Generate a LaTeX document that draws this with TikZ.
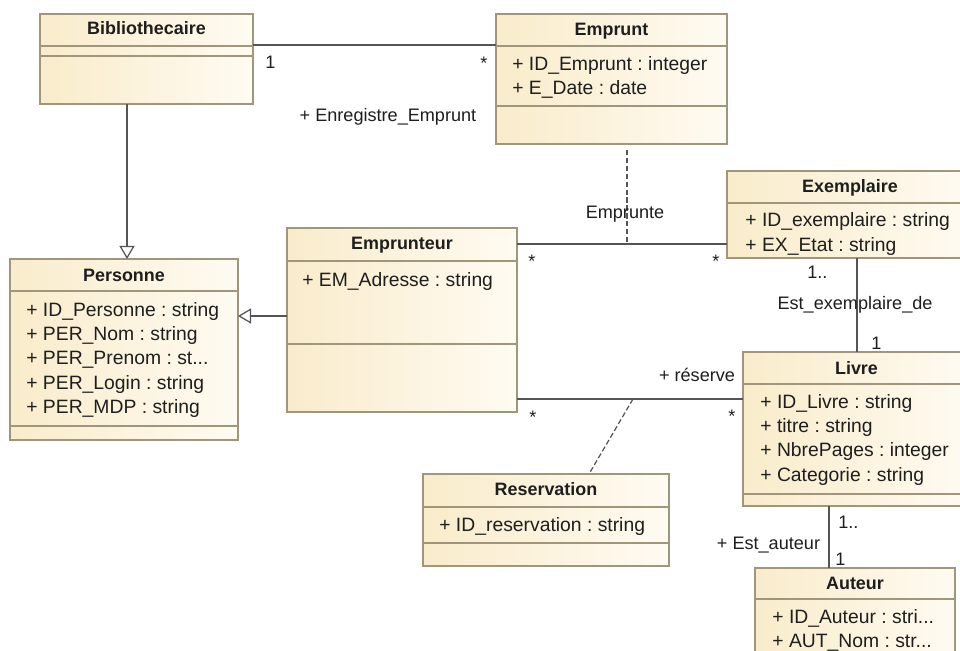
\documentclass[tikz,border=0pt]{standalone}
\usepackage{fontspec}
\setmainfont{Liberation Sans}
\usetikzlibrary{arrows.meta,fit,calc}
\definecolor{clsborder}{HTML}{A0967C}
\definecolor{clsleft}{HTML}{F9ECCB}
\definecolor{clsright}{HTML}{FFFBF2}
\definecolor{linecol}{HTML}{555555}
\definecolor{txt}{HTML}{1E1E1E}
\frenchspacing
\tikzset{
  clsbox/.style={draw=clsborder, line width=0.8pt, left color=clsleft, right color=clsright, inner sep=0pt, outer sep=0pt},
  divline/.style={draw=clsborder, line width=0.8pt},
  ttl/.style={font=\fontsize{10.2}{12}\selectfont\bfseries, text=txt, anchor=base, inner sep=0pt},
  attr/.style={font=\fontsize{11}{13}\selectfont, text=txt, anchor=base west, inner sep=0pt},
  lbl/.style={font=\fontsize{10.3}{12}\selectfont, text=txt, anchor=base, inner sep=0pt},
  lblw/.style={lbl, anchor=base west},
  assoc/.style={draw=linecol, line width=0.7pt},
  dep/.style={draw=linecol, line width=0.7pt, dash pattern=on 3pt off 1.5pt},
  gen/.style={draw=linecol, line width=0.7pt, -{Triangle[open, length=0.26cm, width=0.3cm, fill=white]}},
}
\newcommand\umlclass[5]{\node[clsbox, fit={(#2,#3)(#4,#5)}] (#1) {};}
\newcommand\clsdiv[2]{\draw[divline] (#1.west |- 0,#2) -- (#1.east |- 0,#2);}
\begin{document}
\begin{tikzpicture}[x=0.02cm, y=-0.02cm]
\useasboundingbox (0,0) rectangle (960,651);
\fill[white] (0,0) rectangle (960,651);

% Bibliothecaire
\umlclass{biblio}{40}{14}{253}{104}
\clsdiv{biblio}{46}\clsdiv{biblio}{56}
\node[ttl] (biblio-t) at (146.5,35) {Bibliothecaire};

% Emprunt
\umlclass{emprunt}{496}{14}{727}{144}
\clsdiv{emprunt}{46}\clsdiv{emprunt}{106}
\node[ttl] (emprunt-t) at (611.5,36) {Emprunt};
\node[attr] (emprunt-a1) at (512,71) {+ ID\_Emprunt : integer};
\node[attr] (emprunt-a2) at (512,95) {+ E\_Date : date};

% Exemplaire
\umlclass{exemp}{727}{171}{973}{258}
\clsdiv{exemp}{203}
\node[ttl] (exemp-t) at (850,193) {Exemplaire};
\node[attr] (exemp-a1) at (745,227) {+ ID\_exemplaire : string};
\node[attr] (exemp-a2) at (745,252) {+ EX\_Etat : string};

% Personne
\umlclass{personne}{10}{259}{238}{440}
\clsdiv{personne}{291}\clsdiv{personne}{426}
\node[ttl] (personne-t) at (124,282) {Personne};
\node[attr] (personne-a1) at (26,317) {+ ID\_Personne : string};
\node[attr] (personne-a2) at (26,341) {+ PER\_Nom : string};
\node[attr] (personne-a3) at (26,365) {+ PER\_Prenom : st...};
\node[attr] (personne-a4) at (26,390) {+ PER\_Login : string};
\node[attr] (personne-a5) at (26,414) {+ PER\_MDP : string};

% Emprunteur
\umlclass{emprunteur}{287}{228}{517}{412}
\clsdiv{emprunteur}{261}\clsdiv{emprunteur}{344}
\node[ttl] (emprunteur-t) at (402,250) {Emprunteur};
\node[attr] (emprunteur-a1) at (302,287) {+ EM\_Adresse : string};

% Livre
\umlclass{livre}{743}{352}{970}{506}
\clsdiv{livre}{384}\clsdiv{livre}{494}
\node[ttl] (livre-t) at (856.5,375) {Livre};
\node[attr] (livre-a1) at (760,409) {+ ID\_Livre : string};
\node[attr] (livre-a2) at (760,433) {+ titre : string};
\node[attr] (livre-a3) at (760,457) {+ NbrePages : integer};
\node[attr] (livre-a4) at (760,482) {+ Categorie : string};

% Reservation
\umlclass{reservation}{423}{474}{669}{566}
\clsdiv{reservation}{507}\clsdiv{reservation}{543}
\node[ttl] (reservation-t) at (546,496) {Reservation};
\node[attr] (reservation-a1) at (439,532) {+ ID\_reservation : string};

% Auteur
\umlclass{auteur}{755}{568}{955}{690}
\clsdiv{auteur}{599}
\node[ttl] (auteur-t) at (855,589) {Auteur};
\node[attr] (auteur-a1) at (772,623) {+ ID\_Auteur : stri...};
\node[attr] (auteur-a2) at (772,647) {+ AUT\_Nom : str...};

% helper coordinates
\coordinate (yA) at (0,45);
\coordinate (xG) at (127,0);
\coordinate (yG) at (0,316);
\coordinate (yE) at (0,244);
\coordinate (xE) at (627,150);
\coordinate (yR) at (0,399);
\coordinate (rA) at (633,399);
\coordinate (xR) at (589,0);
\coordinate (xX) at (857,0);
\coordinate (xU) at (829,0);

% connectors
\draw[assoc] (biblio.east |- yA) -- (emprunt.west |- yA);
\draw[gen] (biblio.south -| xG) -- (personne.north -| xG);
\draw[gen] (emprunteur.west |- yG) -- (personne.east |- yG);
\draw[assoc] (emprunteur.east |- yE) -- (exemp.west |- yE);
\draw[dep] (xE) -- (xE |- yE);
\draw[assoc] (emprunteur.east |- yR) -- (livre.west |- yR);
\draw[dep] (rA) -- (reservation.north -| xR);
\draw[assoc] (exemp.south -| xX) -- (livre.north -| xX);
\draw[assoc] (livre.south -| xU) -- (auteur.north -| xU);

% labels
\node[lblw] (m1) at (265,68.5) {1};
\node[lbl] (m2) at (484,70) {*};
\node[lbl] (l1) at (388,121.5) {+ Enregistre\_Emprunt};
\node[lbl] (l2) at (625,218.5) {Emprunte};
\node[lbl] (m3) at (532,268) {*};
\node[lbl] (m4) at (716,268) {*};
\node[lblw] (m5) at (807,278.5) {1..};
\node[lbl] (l3) at (855,309.5) {Est\_exemplaire\_de};
\node[lblw] (m6) at (871,349.5) {1};
\node[lbl] (l4) at (697,381.5) {+ réserve};
\node[lbl] (m7) at (533,424) {*};
\node[lbl] (m8) at (732,423) {*};
\node[lblw] (m9) at (838,528.5) {1..};
\node[lbl] (l5) at (768.5,549.5) {+ Est\_auteur};
\node[lblw] (m10) at (835,565.5) {1};
\end{tikzpicture}
\end{document}
